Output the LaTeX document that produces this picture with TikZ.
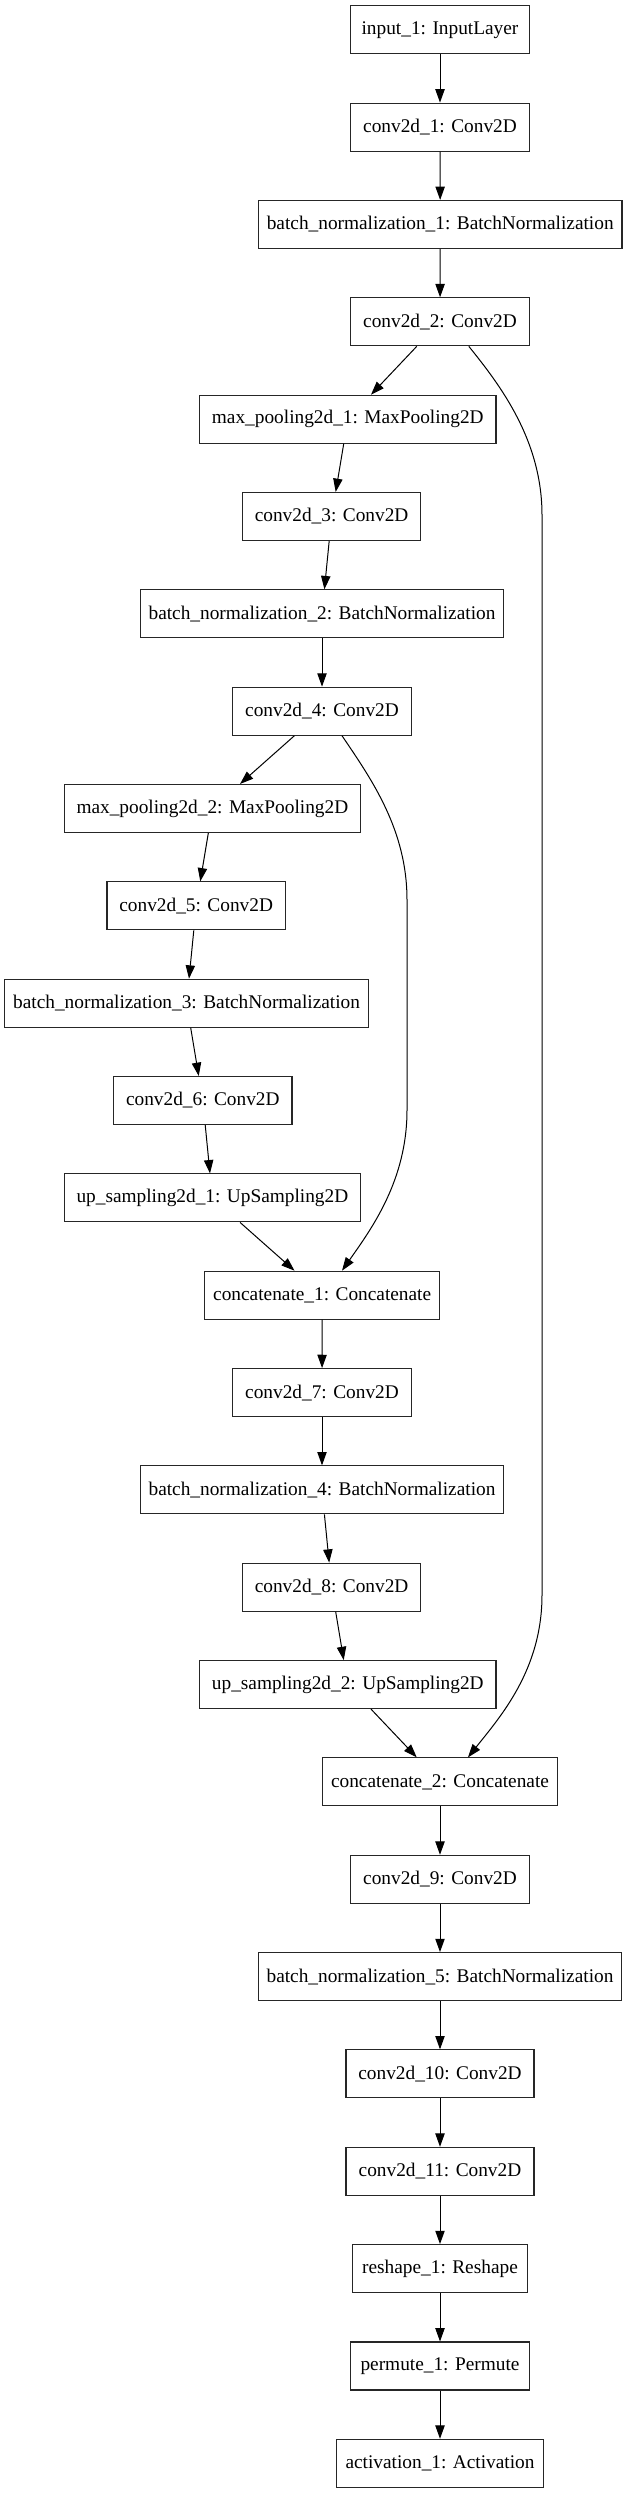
\documentclass[tikz,border=0pt]{standalone}
\usepackage{fontspec}
\setmainfont{Liberation Serif}
\usetikzlibrary{arrows.meta,calc}
\begin{document}
\begin{tikzpicture}[x=0.75pt,y=-0.75pt,
  layer/.style={draw=black!85,line width=0.8pt,rectangle,inner sep=0pt,minimum height=36pt,font=\fontsize{14.5pt}{16pt}\selectfont},
  wA/.style={layer,minimum width=133.8pt},
  wBN/.style={layer,minimum width=272.7pt},
  wP/.style={layer,minimum width=222.3pt},
  wC/.style={layer,minimum width=176pt},
  wD/.style={layer,minimum width=141pt},
  wR/.style={layer,minimum width=130.8pt},
  wAct/.style={layer,minimum width=154.8pt},
  link/.style={draw=black,line width=0.75pt,-{Triangle[length=10pt,width=7pt]}}]
\useasboundingbox (0,0) rectangle (624,2493);
\node[wA]   (in)   at (440,29.8)   {input\_1: InputLayer};
\node[wA]   (c1)   at (440,127.1)  {conv2d\_1: Conv2D};
\node[wBN]  (bn1)  at (440.2,224.5){batch\_normalization\_1: BatchNormalization};
\node[wA]   (c2)   at (440,321.8)  {conv2d\_2: Conv2D};
\node[wP]   (mp1)  at (347.8,419.2){max\_pooling2d\_1: MaxPooling2D};
\node[wA]   (c3)   at (331.6,516.5){conv2d\_3: Conv2D};
\node[wBN]  (bn2)  at (322,613.8)  {batch\_normalization\_2: BatchNormalization};
\node[wA]   (c4)   at (322,711.2)  {conv2d\_4: Conv2D};
\node[wP]   (mp2)  at (212.4,808.5){max\_pooling2d\_2: MaxPooling2D};
\node[wA]   (c5)   at (196.2,905.9){conv2d\_5: Conv2D};
\node[wBN]  (bn3)  at (186.6,1003.2){batch\_normalization\_3: BatchNormalization};
\node[wA]   (c6)   at (202.8,1100.5){conv2d\_6: Conv2D};
\node[wP]   (up1)  at (212.4,1197.9){up\_sampling2d\_1: UpSampling2D};
\node[wC]   (cat1) at (322.2,1295.2){concatenate\_1: Concatenate};
\node[wA]   (c7)   at (322,1392.6) {conv2d\_7: Conv2D};
\node[wBN]  (bn4)  at (322,1489.9) {batch\_normalization\_4: BatchNormalization};
\node[wA]   (c8)   at (331.6,1587.2){conv2d\_8: Conv2D};
\node[wP]   (up2)  at (347.8,1684.6){up\_sampling2d\_2: UpSampling2D};
\node[wC]   (cat2) at (440,1781.9) {concatenate\_2: Concatenate};
\node[wA]   (c9)   at (440,1879.3) {conv2d\_9: Conv2D};
\node[wBN]  (bn5)  at (440,1976.6) {batch\_normalization\_5: BatchNormalization};
\node[wD]   (c10)  at (440,2073.9) {conv2d\_10: Conv2D};
\node[wD]   (c11)  at (440,2171.3) {conv2d\_11: Conv2D};
\node[wR]   (rs)   at (440,2268.6) {reshape\_1: Reshape};
\node[wA]   (pm)   at (440,2366.0) {permute\_1: Permute};
\node[wAct] (act)  at (440,2463.3) {activation\_1: Activation};
\foreach \a/\b in {in/c1,c1/bn1,bn1/c2,c2/mp1,mp1/c3,c3/bn2,bn2/c4,c4/mp2,mp2/c5,c5/bn3,bn3/c6,c6/up1,up1/cat1,cat1/c7,c7/bn4,bn4/c8,c8/up2,up2/cat2,cat2/c9,c9/bn5,bn5/c10,c10/c11,c11/rs,rs/pm,pm/act}
  \draw[link] (\a) -- (\b);
\draw[link] ($(c2.south)+(28.8,0)$) .. controls (500,385) and (542,440) .. (542,515) -- (542,1595) .. controls (542,1670) and (500,1717) .. ($(cat2.north)+(28,0)$);
\draw[link] ($(c4.south)+(20,0)$) .. controls (372,780) and (407,830) .. (407,900) -- (407,1110) .. controls (407,1180) and (372,1228) .. ($(cat1.north)+(19.8,0)$);
\end{tikzpicture}
\end{document}
